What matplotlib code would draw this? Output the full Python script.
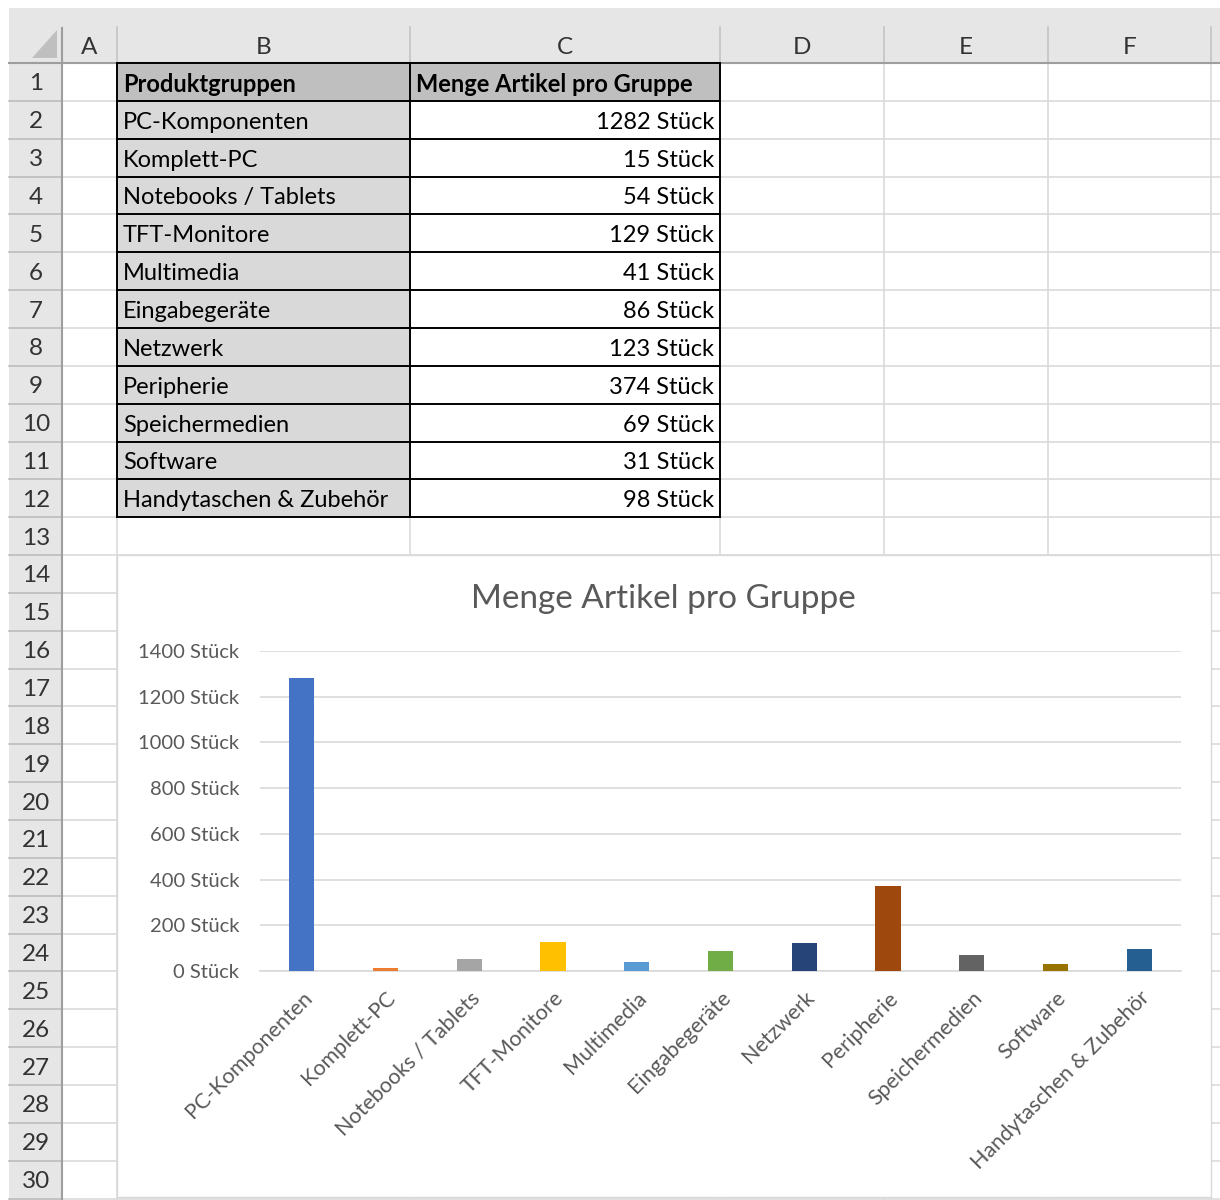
import matplotlib.pyplot as plt
from matplotlib.patches import Rectangle, Polygon

# data
categories = ["PC-Komponenten", "Komplett-PC", "Notebooks / Tablets", "TFT-Monitore",
              "Multimedia", "Eingabegeräte", "Netzwerk", "Peripherie",
              "Speichermedien", "Software", "Handytaschen & Zubehör"]
values = [1282, 15, 54, 129, 41, 86, 123, 374, 69, 31, 98]
bar_colors = ["#4472C4", "#ED7D31", "#A5A5A5", "#FFC000", "#5B9BD5", "#70AD47",
              "#264478", "#9E480E", "#636363", "#997300", "#255E91"]
header = ["Produktgruppen", "Menge Artikel pro Gruppe"]
col_letters = ["A", "B", "C", "D", "E", "F"]
y_ticks = [0, 200, 400, 600, 800, 1000, 1200, 1400]
chart_title = "Menge Artikel pro Gruppe"

plt.rcParams['font.family'] = ['Lato', 'DejaVu Sans']

W, H = 1220, 1200
fig = plt.figure(figsize=(12.2, 12), dpi=100)
sheet = fig.add_axes([0, 0, 1, 1])
sheet.set_xlim(0, W)
sheet.set_ylim(H, 0)
sheet.axis('off')

# sheet geometry (pixels)
left, top, hdr_bot, rh_right = 9, 8, 63, 62
col_edges = [62, 117, 410, 720, 884, 1048, 1211, 1300]
row_h = 37.85
n_rows = 31
row_edges = [hdr_bot + i * row_h for i in range(n_rows + 1)]

# header backgrounds
sheet.add_patch(Rectangle((left, top), W, hdr_bot - top, fc="#E6E6E6", ec="none"))
sheet.add_patch(Rectangle((left, hdr_bot), rh_right - left, H, fc="#E6E6E6", ec="none"))
sheet.add_patch(Polygon([(32, 58), (57, 58), (57, 30)], closed=True, fc="#BFBFBF", ec="none"))

# cell grid
for x in col_edges[1:]:
    sheet.plot([x, x], [hdr_bot, H], color="#DADADA", lw=1.2)
    sheet.plot([x, x], [27, hdr_bot], color="#C4C4C4", lw=1.2)
for y in row_edges[1:]:
    sheet.plot([rh_right, W], [y, y], color="#DADADA", lw=1.2)
    sheet.plot([left, rh_right], [y, y], color="#BDBDBD", lw=1.2)
sheet.plot([left, W], [hdr_bot, hdr_bot], color="#9E9E9E", lw=1.5)
sheet.plot([rh_right, rh_right], [top + 20, H], color="#9E9E9E", lw=1.5)

# column letters and row numbers
for i, letter in enumerate(col_letters):
    cx = (col_edges[i] + col_edges[i + 1]) / 2
    sheet.text(cx, 47, letter, ha="center", va="center", fontsize=17.5, color="#333333")
for i in range(n_rows - 1):
    cy = (row_edges[i] + row_edges[i + 1]) / 2
    sheet.text(36, cy + 2, str(i + 1), ha="center", va="center", fontsize=17.5, color="#333333")

# table
bx0, bx1, cx1 = col_edges[1], col_edges[2], col_edges[3]
for r in range(len(categories) + 1):
    y0 = row_edges[r]
    fb = "#BFBFBF" if r == 0 else "#D9D9D9"
    fc = "#BFBFBF" if r == 0 else "white"
    sheet.add_patch(Rectangle((bx0, y0), bx1 - bx0, row_h, fc=fb, ec="none", zorder=3))
    sheet.add_patch(Rectangle((bx1, y0), cx1 - bx1, row_h, fc=fc, ec="none", zorder=3))
    cy = y0 + row_h / 2 + 2.5
    if r == 0:
        sheet.text(bx0 + 6, cy, header[0], ha="left", va="center", fontsize=17,
                   fontweight="bold", color="black", zorder=5)
        sheet.text(bx1 + 6, cy, header[1], ha="left", va="center", fontsize=17,
                   fontweight="bold", color="black", zorder=5)
    else:
        sheet.text(bx0 + 6, cy, categories[r - 1], ha="left", va="center", fontsize=17,
                   color="black", zorder=5)
        sheet.text(cx1 - 6, cy, f"{values[r - 1]} Stück", ha="right", va="center",
                   fontsize=17, color="black", zorder=5)
# table borders
tab_bottom = row_edges[len(categories) + 1]
for y in row_edges[:len(categories) + 2]:
    sheet.plot([bx0, cx1], [y, y], color="black", lw=1.4, zorder=4)
for x in (bx0, bx1, cx1):
    sheet.plot([x, x], [row_edges[0], tab_bottom], color="black", lw=1.4, zorder=4)

# chart area
ch_y0, ch_y1 = row_edges[13], 1197
sheet.add_patch(Rectangle((bx0, ch_y0), col_edges[6] - bx0, ch_y1 - ch_y0,
                          fc="white", ec="#D9D9D9", lw=1.0, zorder=3))
sheet.text(663, 599, chart_title, ha="center", va="center", fontsize=24,
           color="#595959", zorder=4)

ax = fig.add_axes([260 / W, 1 - 971 / H, (1181 - 260) / W, 320 / H])
ax.set_zorder(5)
ax.patch.set_visible(False)
x = range(len(categories))
ax.bar(x, values, width=0.3, color=bar_colors, zorder=3)
ax.set_xlim(-0.5, len(categories) - 0.5)
ax.set_ylim(0, 1400)
ax.set_yticks(y_ticks)
ax.set_yticklabels([f"{v} Stück" for v in y_ticks], fontsize=14.5, color="#595959")
ax.yaxis.grid(True, color="#D9D9D9", lw=1.2)
ax.set_axisbelow(True)
for sp in ["top", "right", "left"]:
    ax.spines[sp].set_visible(False)
ax.spines["bottom"].set_color("#D9D9D9")
ax.spines["bottom"].set_linewidth(1.2)
ax.tick_params(axis="y", length=0, pad=15)
ax.set_xticks(list(x))
ax.set_xticklabels(categories, rotation=45, ha="right", rotation_mode="anchor",
                   fontsize=15.5, color="#595959")
ax.tick_params(axis="x", length=0, pad=12)

fig.savefig("out.png", dpi=100)
